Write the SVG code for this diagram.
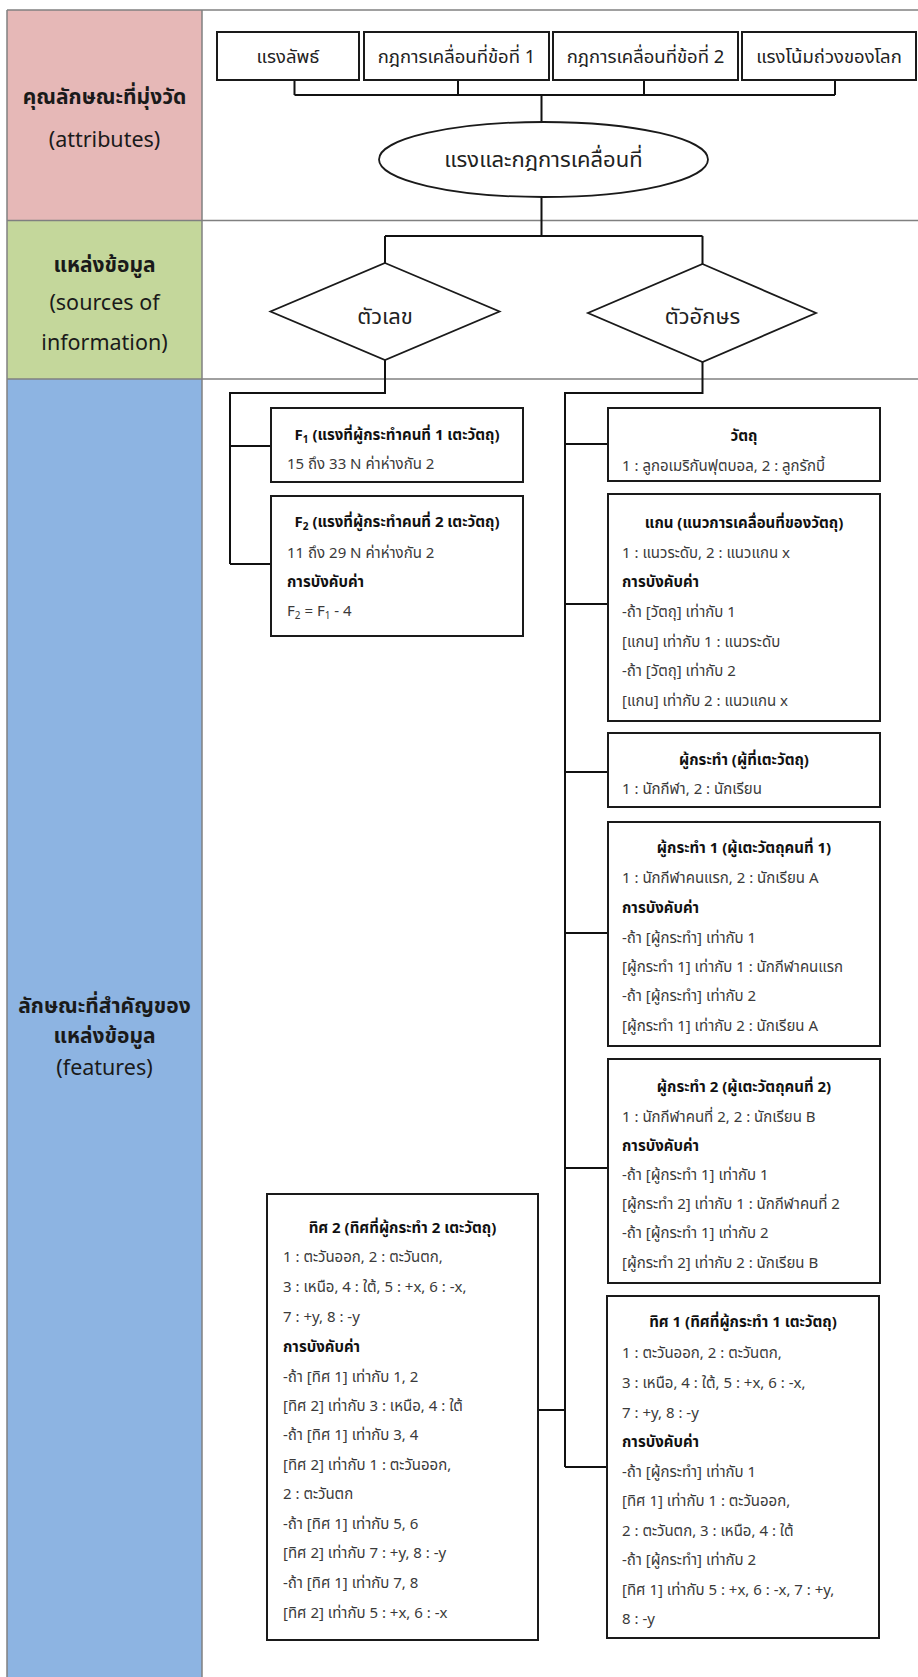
<svg xmlns="http://www.w3.org/2000/svg" width="918" height="1677" viewBox="0 0 918 1677">
  <style>
    text { font-family: 'Noto Sans Thai', 'Leelawadee UI', Tahoma, 'Noto Sans', 'DejaVu Sans', sans-serif; }
    .grid { stroke: #808080; stroke-width: 1.5; fill: none; }
    .box { fill: #ffffff; stroke: #1a1a1a; stroke-width: 2; }
    .shape { fill: #ffffff; stroke: #1a1a1a; stroke-width: 1.8; }
    .conn { fill: none; stroke: #111111; stroke-width: 2; }
    .lbl { font-size: 21.5px; fill: #1a1a1a; text-anchor: middle; }
    .lblb { font-size: 21px; font-weight: bold; fill: #1a1a1a; text-anchor: middle; }
    .top { font-size: 18.5px; fill: #222222; text-anchor: middle; }
    .mid { font-size: 22px; fill: #222222; text-anchor: middle; }
    .ttl { font-size: 15px; font-weight: bold; fill: #111111; text-anchor: middle; }
    .hd { font-size: 15px; font-weight: bold; fill: #111111; }
    .tx { font-size: 15px; fill: #3a3a3a; }
  </style>

  <!-- table background and grid -->
  <g id="table">
    <rect x="7" y="10" width="195" height="210.5" fill="#e6b8b7"/>
    <rect x="7" y="220.5" width="195" height="158.5" fill="#c4d79b"/>
    <rect x="7" y="379" width="195" height="1300" fill="#8db4e2"/>
    <line class="grid" x1="7" y1="10" x2="918" y2="10" stroke-width="2.5"/>
    <line class="grid" x1="7" y1="220.5" x2="918" y2="220.5"/>
    <line class="grid" x1="7" y1="379" x2="918" y2="379"/>
    <line class="grid" x1="7" y1="10" x2="7" y2="1677"/>
    <line class="grid" x1="202" y1="10" x2="202" y2="1677"/>
  </g>

  <!-- row headings -->
  <g id="row-attributes">
    <text class="lblb" x="104.5" y="104">คุณลักษณะที่มุ่งวัด</text>
    <text class="lbl" x="104.5" y="147">(attributes)</text>
  </g>
  <g id="row-sources">
    <text class="lblb" x="104.5" y="272">แหล่งข้อมูล</text>
    <text class="lbl" x="104.5" y="310">(sources of</text>
    <text class="lbl" x="104.5" y="350">information)</text>
  </g>
  <g id="row-features">
    <text class="lblb" x="104.5" y="1013">ลักษณะที่สำคัญของ</text>
    <text class="lblb" x="104.5" y="1043">แหล่งข้อมูล</text>
    <text class="lbl" x="104.5" y="1075">(features)</text>
  </g>

  <!-- connectors -->
  <g id="connectors" class="conn">
    <path d="M294.5 80 V95 M458 80 V95 M644 80 V95 M835 80 V95 M294.5 95 H835 M541.5 95 V122"/>
    <path d="M541.5 197 V236 M385 236 H702.5 M385 236 V263 M702.5 236 V264"/>
    <path d="M385 360 V393 H230 V564 M230 446 H271 M230 564 H271"/>
    <path d="M702.5 362 V393 H565 V1467 M565 444 H608 M565 604 H608 M565 772 H608 M565 933 H608 M565 1168 H608 M565 1467 H608 M538 1410 H565"/>
  </g>

  <!-- top level attributes -->
  <g id="n-resultant">
    <rect class="box" x="217" y="32" width="142" height="48"/>
    <text class="top" x="288" y="63">แรงลัพธ์</text>
  </g>
  <g id="n-law1">
    <rect class="box" x="364" y="32" width="185" height="48"/>
    <text class="top" x="456.5" y="63">กฎการเคลื่อนที่ข้อที่ 1</text>
  </g>
  <g id="n-law2">
    <rect class="box" x="553" y="32" width="185" height="48"/>
    <text class="top" x="645.5" y="63">กฎการเคลื่อนที่ข้อที่ 2</text>
  </g>
  <g id="n-gravity">
    <rect class="box" x="742" y="32" width="174" height="48"/>
    <text class="top" x="829" y="63">แรงโน้มถ่วงของโลก</text>
  </g>

  <g id="n-topic">
    <ellipse class="shape" cx="543.5" cy="159.5" rx="164.5" ry="37.5"/>
    <text class="mid" x="543.5" y="167">แรงและกฎการเคลื่อนที่</text>
  </g>

  <!-- source types -->
  <g id="n-numeric">
    <polygon class="shape" points="385,263 499.5,311.5 385,360 270.5,311.5"/>
    <text class="mid" x="385" y="324">ตัวเลข</text>
  </g>
  <g id="n-text">
    <polygon class="shape" points="702.5,264 816,313 702.5,362 588,313"/>
    <text class="mid" x="702.5" y="324">ตัวอักษร</text>
  </g>

  <!-- numeric features -->
  <g id="n-f1">
    <rect class="box" x="271" y="408" width="252" height="74"/>
    <text class="ttl" x="397" y="440">F<tspan font-size="10" dy="3">1</tspan><tspan dy="-3"> (แรงที่ผู้กระทำคนที่ 1 เตะวัตถุ)</tspan></text>
    <text class="tx" x="287" y="469">15 ถึง 33 N ค่าห่างกัน 2</text>
  </g>
  <g id="n-f2">
    <rect class="box" x="271" y="496" width="252" height="140"/>
    <text class="ttl" x="397" y="527">F<tspan font-size="10" dy="3">2</tspan><tspan dy="-3"> (แรงที่ผู้กระทำคนที่ 2 เตะวัตถุ)</tspan></text>
    <text class="tx" x="287" y="558">11 ถึง 29 N ค่าห่างกัน 2</text>
    <text class="hd" x="287" y="587">การบังคับค่า</text>
    <text class="tx" x="287" y="616">F<tspan font-size="10" dy="3">2</tspan><tspan dy="-3"> = F</tspan><tspan font-size="10" dy="3">1</tspan><tspan dy="-3"> - 4</tspan></text>
  </g>

  <!-- text features -->
  <g id="n-object">
    <rect class="box" x="608" y="408" width="272" height="73"/>
    <text class="ttl" x="744" y="441">วัตถุ</text>
    <text class="tx" x="622" y="471">1 : ลูกอเมริกันฟุตบอล, 2 : ลูกรักบี้</text>
  </g>
  <g id="n-axis">
    <rect class="box" x="608" y="494" width="272" height="227"/>
    <text class="ttl" x="744" y="528">แกน (แนวการเคลื่อนที่ของวัตถุ)</text>
    <text class="tx" x="622" y="558">1 : แนวระดับ, 2 : แนวแกน x</text>
    <text class="hd" x="622" y="587">การบังคับค่า</text>
    <text class="tx" x="622" y="617">-ถ้า [วัตถุ] เท่ากับ 1</text>
    <text class="tx" x="622" y="647">[แกน] เท่ากับ 1 : แนวระดับ</text>
    <text class="tx" x="622" y="676">-ถ้า [วัตถุ] เท่ากับ 2</text>
    <text class="tx" x="622" y="706">[แกน] เท่ากับ 2 : แนวแกน x</text>
  </g>
  <g id="n-actor">
    <rect class="box" x="608" y="733" width="272" height="74"/>
    <text class="ttl" x="744" y="765">ผู้กระทำ (ผู้ที่เตะวัตถุ)</text>
    <text class="tx" x="622" y="794">1 : นักกีฬา, 2 : นักเรียน</text>
  </g>
  <g id="n-actor1">
    <rect class="box" x="608" y="822" width="272" height="224"/>
    <text class="ttl" x="744" y="853">ผู้กระทำ 1 (ผู้เตะวัตถุคนที่ 1)</text>
    <text class="tx" x="622" y="883">1 : นักกีฬาคนแรก, 2 : นักเรียน A</text>
    <text class="hd" x="622" y="913">การบังคับค่า</text>
    <text class="tx" x="622" y="943">-ถ้า [ผู้กระทำ] เท่ากับ 1</text>
    <text class="tx" x="622" y="972">[ผู้กระทำ 1] เท่ากับ 1 : นักกีฬาคนแรก</text>
    <text class="tx" x="622" y="1001">-ถ้า [ผู้กระทำ] เท่ากับ 2</text>
    <text class="tx" x="622" y="1031">[ผู้กระทำ 1] เท่ากับ 2 : นักเรียน A</text>
  </g>
  <g id="n-actor2">
    <rect class="box" x="608" y="1059" width="272" height="224"/>
    <text class="ttl" x="744" y="1092">ผู้กระทำ 2 (ผู้เตะวัตถุคนที่ 2)</text>
    <text class="tx" x="622" y="1122">1 : นักกีฬาคนที่ 2, 2 : นักเรียน B</text>
    <text class="hd" x="622" y="1151">การบังคับค่า</text>
    <text class="tx" x="622" y="1180">-ถ้า [ผู้กระทำ 1] เท่ากับ 1</text>
    <text class="tx" x="622" y="1209">[ผู้กระทำ 2] เท่ากับ 1 : นักกีฬาคนที่ 2</text>
    <text class="tx" x="622" y="1238">-ถ้า [ผู้กระทำ 1] เท่ากับ 2</text>
    <text class="tx" x="622" y="1268">[ผู้กระทำ 2] เท่ากับ 2 : นักเรียน B</text>
  </g>
  <g id="n-dir1">
    <rect class="box" x="607" y="1296" width="272" height="342"/>
    <text class="ttl" x="743" y="1327">ทิศ 1 (ทิศที่ผู้กระทำ 1 เตะวัตถุ)</text>
    <text class="tx" x="622" y="1358">1 : ตะวันออก, 2 : ตะวันตก,</text>
    <text class="tx" x="622" y="1388">3 : เหนือ, 4 : ใต้, 5 : +x, 6 : -x,</text>
    <text class="tx" x="622" y="1418">7 : +y, 8 : -y</text>
    <text class="hd" x="622" y="1447">การบังคับค่า</text>
    <text class="tx" x="622" y="1477">-ถ้า [ผู้กระทำ] เท่ากับ 1</text>
    <text class="tx" x="622" y="1506">[ทิศ 1] เท่ากับ 1 : ตะวันออก,</text>
    <text class="tx" x="622" y="1536">2 : ตะวันตก, 3 : เหนือ, 4 : ใต้</text>
    <text class="tx" x="622" y="1565">-ถ้า [ผู้กระทำ] เท่ากับ 2</text>
    <text class="tx" x="622" y="1595">[ทิศ 1] เท่ากับ 5 : +x, 6 : -x, 7 : +y,</text>
    <text class="tx" x="622" y="1624">8 : -y</text>
  </g>
  <g id="n-dir2">
    <rect class="box" x="267" y="1194" width="271" height="446"/>
    <text class="ttl" x="402.5" y="1233">ทิศ 2 (ทิศที่ผู้กระทำ 2 เตะวัตถุ)</text>
    <text class="tx" x="283" y="1262">1 : ตะวันออก, 2 : ตะวันตก,</text>
    <text class="tx" x="283" y="1292">3 : เหนือ, 4 : ใต้, 5 : +x, 6 : -x,</text>
    <text class="tx" x="283" y="1322">7 : +y, 8 : -y</text>
    <text class="hd" x="283" y="1352">การบังคับค่า</text>
    <text class="tx" x="283" y="1382">-ถ้า [ทิศ 1] เท่ากับ 1, 2</text>
    <text class="tx" x="283" y="1411">[ทิศ 2] เท่ากับ 3 : เหนือ, 4 : ใต้</text>
    <text class="tx" x="283" y="1440">-ถ้า [ทิศ 1] เท่ากับ 3, 4</text>
    <text class="tx" x="283" y="1470">[ทิศ 2] เท่ากับ 1 : ตะวันออก,</text>
    <text class="tx" x="283" y="1499">2 : ตะวันตก</text>
    <text class="tx" x="283" y="1529">-ถ้า [ทิศ 1] เท่ากับ 5, 6</text>
    <text class="tx" x="283" y="1558">[ทิศ 2] เท่ากับ 7 : +y, 8 : -y</text>
    <text class="tx" x="283" y="1588">-ถ้า [ทิศ 1] เท่ากับ 7, 8</text>
    <text class="tx" x="283" y="1618">[ทิศ 2] เท่ากับ 5 : +x, 6 : -x</text>
  </g>
</svg>
